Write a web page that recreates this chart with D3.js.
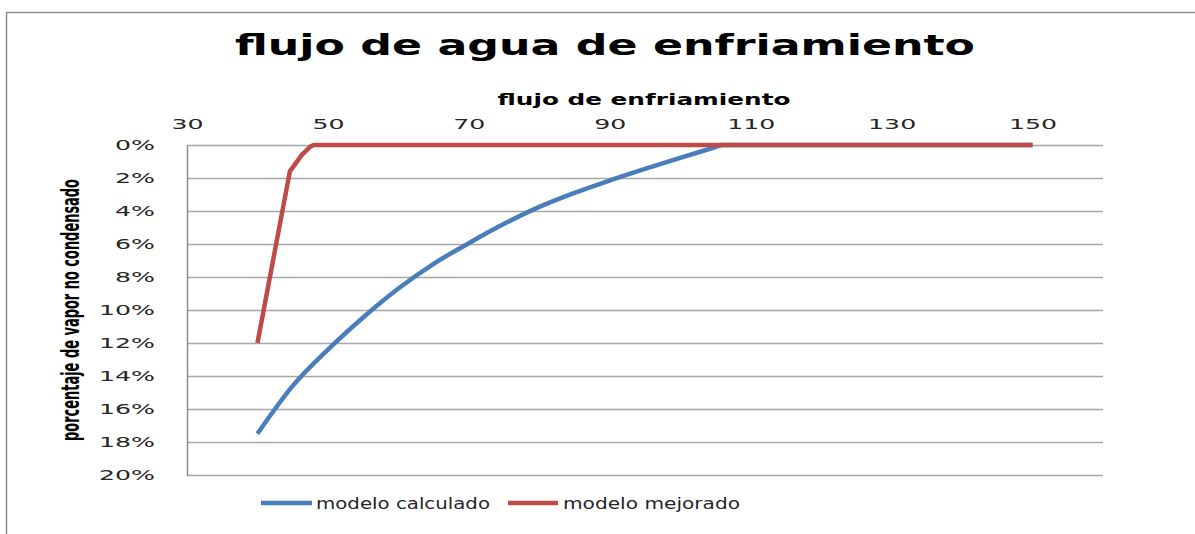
<!DOCTYPE html>
<html>
<head>
<meta charset="utf-8">
<script src="https://cdn.jsdelivr.net/npm/d3@7/dist/d3.min.js"></script>
<style>
  html, body { margin: 0; padding: 0; background: #fff; }
  svg { display: block; }
</style>
</head>
<body>
<svg id="chart" width="1195" height="534"></svg>
<script>
// Cooling water flow vs. fraction of uncondensed vapour
const flujoCalculado = [40, 45, 50, 55, 60, 65, 70, 75, 80, 85, 90, 95, 100, 105, 106, 110, 120, 130, 140, 150];
const vaporCalculado = [0.175, 0.146, 0.124, 0.1045, 0.087, 0.072, 0.0595, 0.0478, 0.0375, 0.029, 0.0215, 0.0145, 0.0078, 0.0013, 0, 0, 0, 0, 0, 0];

const flujoMejorado = [40, 44.6, 46.3, 47.5, 48, 50, 60, 70, 80, 90, 100, 110, 120, 130, 140, 150];
const vaporMejorado = [0.12, 0.016, 0.006, 0.001, 0, 0, 0, 0, 0, 0, 0, 0, 0, 0, 0, 0];

const xTicks = [30, 50, 70, 90, 110, 130, 150];
const yTicks = [0, 0.02, 0.04, 0.06, 0.08, 0.10, 0.12, 0.14, 0.16, 0.18, 0.20];

const seriesNames = ["modelo calculado", "modelo mejorado"];
const seriesColors = ["#4a7ebb", "#be4b48"];

const titulo = "flujo de agua de enfriamiento";
const tituloX = "flujo de enfriamiento";
const tituloY = "porcentaje de vapor no condensado";

const svg = d3.select("#chart");
const W = 1195, H = 534;
const plot = { left: 187, right: 1103, top: 145, bottom: 475 };
const stretch = 1.8; // horizontal widening of the glyphs

// outer chart frame
svg.append("rect")
  .attr("x", 6.5).attr("y", 12.5)
  .attr("width", W + 20).attr("height", H + 20)
  .attr("fill", "#fff").attr("stroke", "#8c8c8c").attr("stroke-width", 1.5);

const x = d3.scaleLinear().domain([30, 160]).range([plot.left, plot.right]);
const y = d3.scaleLinear().domain([0, 0.20]).range([plot.top, plot.bottom]);

// widen a text selection by a factor, keeping its anchor
function widen(sel, factor) {
  sel.each(function () {
    const n = this.getComputedTextLength();
    d3.select(this).attr("textLength", n * factor).attr("lengthAdjust", "spacingAndGlyphs");
  });
}

// horizontal gridlines
svg.append("g")
  .selectAll("line")
  .data(yTicks)
  .join("line")
  .attr("x1", plot.left).attr("x2", plot.right)
  .attr("y1", d => Math.round(y(d)) + 0.5).attr("y2", d => Math.round(y(d)) + 0.5)
  .attr("stroke", "#a6a6a6").attr("stroke-width", 1.3);

// left axis line
svg.append("line")
  .attr("x1", plot.left + 0.5).attr("x2", plot.left + 0.5)
  .attr("y1", plot.top).attr("y2", plot.bottom + 1)
  .attr("stroke", "#8c8c8c").attr("stroke-width", 1.5);

// top axis (category values)
const xAxis = svg.append("g")
  .attr("transform", `translate(0,${plot.top})`)
  .call(d3.axisTop(x).tickValues(xTicks).tickFormat(d3.format("d")).tickSize(0).tickPadding(16));
xAxis.select(".domain").remove();
xAxis.selectAll("text")
  .attr("font-family", "DejaVu Sans").attr("font-size", 14).attr("fill", "#262626");
widen(xAxis.selectAll("text"), stretch);

// left axis (percentages, 0% at the top)
const yAxis = svg.append("g")
  .attr("transform", `translate(${plot.left},0)`)
  .call(d3.axisLeft(y).tickValues(yTicks).tickFormat(d3.format(".0%")).tickSize(0).tickPadding(32));
yAxis.select(".domain").remove();
yAxis.selectAll("text")
  .attr("font-family", "DejaVu Sans").attr("font-size", 14).attr("fill", "#262626");
widen(yAxis.selectAll("text"), stretch);

// series lines: smoothed calculated model, straight segments for the improved one
const smooth = d3.line().x(d => x(d[0])).y(d => y(d[1])).curve(d3.curveMonotoneX);
const straight = d3.line().x(d => x(d[0])).y(d => y(d[1])).curve(d3.curveLinear);
const series = [
  { pts: d3.zip(flujoCalculado, vaporCalculado), gen: smooth },
  { pts: d3.zip(flujoMejorado, vaporMejorado), gen: straight }
];
svg.append("g")
  .selectAll("path")
  .data(series)
  .join("path")
  .attr("d", d => d.gen(d.pts))
  .attr("fill", "none")
  .attr("stroke", (d, i) => seriesColors[i])
  .attr("stroke-width", 4.5)
  .attr("stroke-linejoin", "round");

// chart title
svg.append("text")
  .attr("x", 605).attr("y", 55)
  .attr("text-anchor", "middle")
  .attr("font-family", "DejaVu Sans").attr("font-weight", "bold")
  .attr("font-size", 28).attr("fill", "#000")
  .attr("textLength", 740).attr("lengthAdjust", "spacingAndGlyphs")
  .text(titulo);

// category axis title
svg.append("text")
  .attr("x", 644).attr("y", 105)
  .attr("text-anchor", "middle")
  .attr("font-family", "DejaVu Sans").attr("font-weight", "bold")
  .attr("font-size", 15).attr("fill", "#000")
  .attr("textLength", 293).attr("lengthAdjust", "spacingAndGlyphs")
  .text(tituloX);

// value axis title (rotated, glyphs stretched across the line)
svg.append("text")
  .attr("transform", "translate(79,310) rotate(-90) scale(1,1.75)")
  .attr("text-anchor", "middle")
  .attr("font-family", "DejaVu Sans").attr("font-weight", "bold")
  .attr("font-size", 14.5).attr("fill", "#000")
  .attr("textLength", 262).attr("lengthAdjust", "spacingAndGlyphs")
  .text(tituloY);

// legend
const legendItems = [
  { x1: 261, x2: 312, tx: 316, w: 174 },
  { x1: 508, x2: 558, tx: 563, w: 177 }
];
const legend = svg.append("g");
legendItems.forEach((it, i) => {
  legend.append("line")
    .attr("x1", it.x1).attr("x2", it.x2).attr("y1", 503).attr("y2", 503)
    .attr("stroke", seriesColors[i]).attr("stroke-width", 4.5);
  legend.append("text")
    .attr("x", it.tx).attr("y", 509)
    .attr("font-family", "DejaVu Sans").attr("font-size", 15).attr("fill", "#262626")
    .attr("textLength", it.w).attr("lengthAdjust", "spacingAndGlyphs")
    .text(seriesNames[i]);
});
</script>
</body>
</html>
